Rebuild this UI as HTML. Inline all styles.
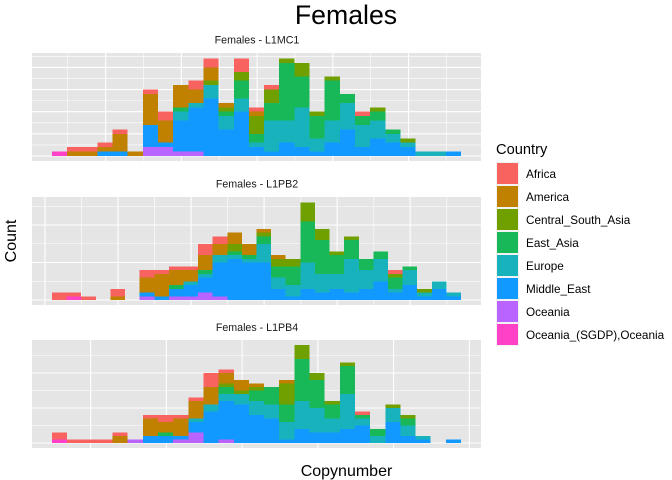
<!DOCTYPE html>
<html>
<head>
<meta charset="utf-8">
<style>
html,body{margin:0;padding:0;background:#fff;}
svg{display:block;}
text{font-family:"Liberation Sans",sans-serif;}
</style>
</head>
<body>
<svg id="chart" width="672" height="480" viewBox="0 0 672 480" xmlns="http://www.w3.org/2000/svg">
<rect x="0" y="0" width="672" height="480" fill="#ffffff"/>
<text x="346" y="24" font-size="26.67" text-anchor="middle" fill="#000">Females</text>
<text transform="translate(16,241) rotate(-90)" font-size="16" text-anchor="middle" fill="#000">Count</text>
<text x="346.5" y="476" font-size="16" text-anchor="middle" fill="#000">Copynumber</text>
<text x="496" y="154" font-size="14.67" fill="#000">Country</text>
<g id="panels"></g>
<g id="legend"></g>
</svg>
<script>
const countries = ["Africa","America","Central_South_Asia","East_Asia","Europe","Middle_East","Oceania","Oceania_(SGDP),Oceania"];
const colors = ["#F8635F","#C08000","#6FA000","#18B858","#18B2BC","#1199FF","#B964FF","#FF41C8"];

const l1mc1Africa  = [0,1,1,1,1,0,1,2,0,2,2,0,3,1,1,0,0,0,0,0,1,0,0,0,0,0,0];
const l1mc1America = [0,1,1,1,4,1,7,5,5,3,3,1,0,1,0,0,0,0,0,0,0,0,0,0,0,0,0];
const l1mc1CSA     = [0,0,0,0,0,0,0,0,0,0,1,1,2,4,3,1,3,1,1,0,0,1,0,1,0,0,0];
const l1mc1EastAsia= [0,0,0,0,0,0,0,0,1,0,0,1,4,2,4,13,7,5,9,2,2,2,1,0,0,0,0];
const l1mc1Europe  = [0,0,0,0,0,0,0,0,2,1,3,3,3,1,7,5,9,3,5,6,5,4,2,1,1,1,0];
const l1mc1MidEast = [0,0,0,1,1,0,5,1,7,10,13,6,10,2,1,3,2,1,3,6,2,4,3,2,0,0,1];
const l1mc1Oceania = [0,0,0,0,0,0,2,2,1,1,0,0,0,0,0,0,0,0,0,0,0,0,0,0,0,0,0];
const l1mc1SGDP    = [1,0,0,0,0,0,0,0,0,0,0,0,0,0,0,0,0,0,0,0,0,0,0,0,0,0,0];

const l1pb2Africa  = [2,1,1,0,2,0,2,1,1,1,3,2,0,0,0,0,0,0,0,0,0,0,0,1,0,0,0,0];
const l1pb2America = [0,0,0,0,1,0,4,6,4,3,4,3,3,3,1,1,0,0,0,0,0,0,0,0,0,0,0,0];
const l1pb2CSA     = [0,0,0,0,0,0,0,0,0,0,0,0,2,0,1,2,2,5,3,1,1,0,0,1,0,1,0,0];
const l1pb2EastAsia= [0,0,0,0,0,0,0,0,1,0,1,0,1,1,2,3,5,11,9,5,5,3,2,3,1,0,0,0];
const l1pb2Europe  = [0,0,0,0,0,0,0,0,0,1,1,2,1,1,5,3,3,7,5,4,9,5,6,1,4,1,2,1];
const l1pb2MidEast = [0,0,0,0,0,0,1,1,2,3,4,9,11,10,10,3,1,3,2,3,2,3,5,2,4,1,3,1];
const l1pb2Oceania = [0,0,0,0,0,0,1,0,1,1,2,1,0,0,0,0,0,0,0,0,0,0,0,0,0,0,0,0];
const l1pb2SGDP    = [0,1,0,0,0,0,0,0,0,0,0,0,0,0,0,0,0,0,0,0,0,0,0,0,0,0,0,0];

const l1pb4Africa  = [2,1,1,1,1,0,1,2,1,1,4,1,0,0,0,0,0,0,0,0,1,0,0,0,0,0,0];
const l1pb4America = [0,0,0,0,2,0,5,3,5,5,5,3,3,1,0,1,0,0,0,0,0,0,0,0,0,0,0];
const l1pb4CSA     = [0,0,0,0,0,0,0,0,0,0,0,1,1,1,0,6,4,2,1,1,0,0,1,1,0,0,0];
const l1pb4EastAsia= [0,0,0,0,0,0,0,1,0,0,0,2,0,3,5,5,12,8,4,8,1,2,0,2,0,0,0];
const l1pb4Europe  = [0,0,0,0,0,0,0,0,0,1,2,2,3,4,4,5,8,7,4,10,2,2,4,3,1,0,0];
const l1pb4MidEast = [0,0,0,0,0,0,2,2,1,3,9,11,11,8,7,1,4,3,3,4,5,0,6,2,1,0,1];
const l1pb4Oceania = [0,0,0,0,0,1,0,0,1,3,0,1,0,0,0,0,0,0,0,0,0,0,0,0,0,0,0];
const l1pb4SGDP    = [1,0,0,0,0,0,0,0,0,0,0,0,0,0,0,0,0,0,0,0,0,0,0,0,0,0,0];

const l1mc1XMajor = [3.54,8.54,13.54,18.54,23.54];
const l1mc1XMinor = [1.04,6.04,11.04,16.04,21.04,26.04];
const l1pb2XMajor = [-0.48,4.52,9.52,14.52,19.52,24.52];
const l1pb2XMinor = [2.03,7.03,12.03,17.03,22.03,27.03];
const l1pb4XMajor = [2.55,7.55,12.55,17.55,22.55,27.55];
const l1pb4XMinor = [];

const l1mc1YMajor = [0,5,10,15,20];
const l1mc1YMinor = [2.5,7.5,12.5,17.5,22.5];
const l1pb2YMajor = [0,10,20];
const l1pb2YMinor = [5,15,25];
const l1pb4YMajor = [0,10,20];
const l1pb4YMinor = [5,15,25];

const panelNames = ["L1MC1","L1PB2","L1PB4"];
const panelSeries = [
  [l1mc1Africa,l1mc1America,l1mc1CSA,l1mc1EastAsia,l1mc1Europe,l1mc1MidEast,l1mc1Oceania,l1mc1SGDP],
  [l1pb2Africa,l1pb2America,l1pb2CSA,l1pb2EastAsia,l1pb2Europe,l1pb2MidEast,l1pb2Oceania,l1pb2SGDP],
  [l1pb4Africa,l1pb4America,l1pb4CSA,l1pb4EastAsia,l1pb4Europe,l1pb4MidEast,l1pb4Oceania,l1pb4SGDP]
];
const panelXMajor = [l1mc1XMajor,l1pb2XMajor,l1pb4XMajor];
const panelXMinor = [l1mc1XMinor,l1pb2XMinor,l1pb4XMinor];
const panelYMajor = [l1mc1YMajor,l1pb2YMajor,l1pb4YMajor];
const panelYMinor = [l1mc1YMinor,l1pb2YMinor,l1pb4YMinor];

const SVGNS = "http://www.w3.org/2000/svg";
const panelsGroup = document.getElementById("panels");
const legendGroup = document.getElementById("legend");

function makeScaleX(left, binWidth){ return function(v){ return left + binWidth*v; }; }
function makeScaleY(base, unit){ return function(v){ return base - unit*v; }; }

function addRect(parent,name,x,y,w,h,fill){
  const el = document.createElementNS(SVGNS,"rect");
  
  
  el.setAttribute("x",x);
  el.setAttribute("y",y);
  el.setAttribute("width",w);
  el.setAttribute("height",h);
  el.setAttribute("fill",fill);
  el.setAttribute("shape-rendering","crispEdges");
  parent.appendChild(el);
  return el;
}
function addLine(parent,name,x1,y1,x2,y2,width){
  const el = document.createElementNS(SVGNS,"line");
  
  
  el.setAttribute("x1",x1);
  el.setAttribute("y1",y1);
  el.setAttribute("x2",x2);
  el.setAttribute("y2",y2);
  el.setAttribute("stroke","#ffffff");
  el.setAttribute("stroke-width",width);
  parent.appendChild(el);
}
function addText(parent,name,x,y,size,anchor,fill,str){
  const el = document.createElementNS(SVGNS,"text");
  
  
  el.setAttribute("x",x);
  el.setAttribute("y",y);
  el.setAttribute("font-size",size);
  el.setAttribute("text-anchor",anchor);
  el.setAttribute("fill",fill);
  el.textContent = str;
  parent.appendChild(el);
}

const panelLeft = 32, panelRight = 481, barLeft = 52, barRight = 461;
const panelTops = [53, 197, 340];
const panelBottoms = [161, 305, 448];
const baselines = [156, 300, 443];
const countUnits = [4.43, 3.75, 3.5];
const subtitleYs = [43.5, 187.5, 331];

panelNames.forEach(function(pname,p){
  const series = panelSeries[p];
  const bins = series[0].length;
  const binWidth = (barRight-barLeft)/bins;
  const sx = makeScaleX(barLeft,binWidth);
  const sy = makeScaleY(baselines[p],countUnits[p]);
  const g = document.createElementNS(SVGNS,"g");
  
  
  panelsGroup.appendChild(g);
  addText(g,'panel-title-'+pname.toLowerCase(),257,subtitleYs[p],10.67,"middle","#1a1a1a","Females - "+pname);
  addRect(g,'panel-background',panelLeft,panelTops[p],panelRight-panelLeft,panelBottoms[p]-panelTops[p],"#E5E5E5");
  panelYMinor[p].forEach(function(v){
    addLine(g,'y-gridline-minor',panelLeft,sy(v),panelRight,sy(v),0.6);
  });
  panelXMinor[p].forEach(function(v){
    addLine(g,'x-gridline-minor',sx(v),panelTops[p],sx(v),panelBottoms[p],0.6);
  });
  panelYMajor[p].forEach(function(v){
    addLine(g,'y-gridline-major',panelLeft,sy(v),panelRight,sy(v),1.1);
  });
  panelXMajor[p].forEach(function(v){
    addLine(g,'x-gridline-major',sx(v),panelTops[p],sx(v),panelBottoms[p],1.1);
  });
  for(let b=0;b<bins;b++){
    let acc = 0;
    for(let c=countries.length-1;c>=0;c--){
      const val = series[c][b];
      if(val>0){
        addRect(g,'bar-'+pname.toLowerCase()+'-bin-'+b+'-'+countries[c].toLowerCase().replace(/[^a-z]+/g,'-'),sx(b),sy(acc+val),binWidth,sy(acc)-sy(acc+val),colors[c]);
      }
      acc += val;
    }
  }
});

countries.forEach(function(name,i){
  const top = 162 + 23*i;
  const g = document.createElementNS(SVGNS,"g");
  
  
  legendGroup.appendChild(g);
  addRect(g,'legend-key-background',496,top,23,23,"#F2F2F2");
  addRect(g,'legend-key-swatch',497,top+1,21,21,colors[i]);
  addText(g,'legend-label',526,top+16,11.73,"start","#000",name);
});
</script>
</body>
</html>
